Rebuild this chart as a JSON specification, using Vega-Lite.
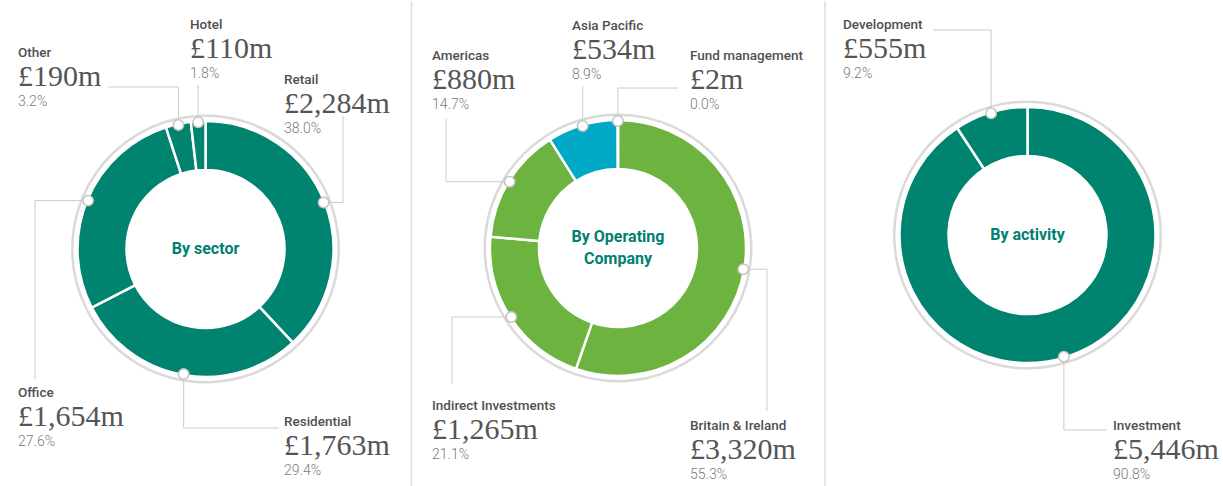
{
  "$schema": "https://vega.github.io/schema/vega-lite/v6.json",
  "background": "white",
  "padding": 0,
  "spacing": 0,
  "bounds": "flush",
  "config": {"view": {"stroke": null}, "axis": {"disable": true}},
  "datasets": {"holdings": [
    {"chart": "sector", "group": "By sector", "segment": "Retail", "value": 2284, "pct": 38.0, "rank": 1},
    {"chart": "sector", "group": "By sector", "segment": "Residential", "value": 1763, "pct": 29.4, "rank": 2},
    {"chart": "sector", "group": "By sector", "segment": "Office", "value": 1654, "pct": 27.6, "rank": 3},
    {"chart": "sector", "group": "By sector", "segment": "Other", "value": 190, "pct": 3.2, "rank": 4},
    {"chart": "sector", "group": "By sector", "segment": "Hotel", "value": 110, "pct": 1.8, "rank": 5},
    {"chart": "company", "group": "By Operating\nCompany", "segment": "Britain & Ireland", "value": 3320, "pct": 55.3, "rank": 1},
    {"chart": "company", "group": "By Operating\nCompany", "segment": "Indirect Investments", "value": 1265, "pct": 21.1, "rank": 2},
    {"chart": "company", "group": "By Operating\nCompany", "segment": "Americas", "value": 880, "pct": 14.7, "rank": 3},
    {"chart": "company", "group": "By Operating\nCompany", "segment": "Asia Pacific", "value": 534, "pct": 8.9, "rank": 4},
    {"chart": "company", "group": "By Operating\nCompany", "segment": "Fund management", "value": 2, "pct": 0.0, "rank": 5},
    {"chart": "activity", "group": "By activity", "segment": "Investment", "value": 5446, "pct": 90.8, "rank": 1},
    {"chart": "activity", "group": "By activity", "segment": "Development", "value": 555, "pct": 9.2, "rank": 2}
  ]},
  "hconcat": [
    {
      "width": 411, "height": 496,
      "data": {"name": "holdings"},
      "transform": [
        {"filter": "datum.chart === 'sector'"},
        {"joinaggregate": [{"op": "sum", "field": "value", "as": "total"}]},
        {"window": [{"op": "sum", "field": "value", "as": "cum"}], "sort": [{"field": "rank", "order": "ascending"}]},
        {"calculate": "2*PI*(datum.cum - datum.value/2)/datum.total", "as": "mid"},
        {"calculate": "205.5 + 127*sin(datum.mid)", "as": "px"},
        {"calculate": "248 - 127*cos(datum.mid)", "as": "py"},
        {"calculate": "datum.rank === 1 ? 284 : datum.rank === 2 ? 284 : datum.rank === 3 ? 18 : datum.rank === 4 ? 18 : 190", "as": "tx"},
        {"calculate": "datum.rank === 1 ? 79 : datum.rank === 2 ? 421 : datum.rank === 3 ? 392 : datum.rank === 4 ? 52 : 24", "as": "ty"},
        {"calculate": "datum.rank === 1 ? 343 : datum.rank === 2 ? 279 : datum.rank === 3 ? 35 : datum.rank === 4 ? 108 : datum.px", "as": "ex"},
        {"calculate": "datum.rank === 1 ? 115 : datum.rank === 2 ? 427 : datum.rank === 3 ? 378 : datum.rank === 4 ? 86 : 84", "as": "ey"},
        {"calculate": "datum.rank === 1 || datum.rank === 3 ? 'h' : 'v'", "as": "dir"},
        {"calculate": "datum.dir === 'h' ? datum.ex : datum.px", "as": "bx"},
        {"calculate": "datum.dir === 'h' ? datum.py : datum.ey", "as": "by"},
        {"calculate": "'£' + format(datum.value, ',') + 'm'", "as": "valueLabel"},
        {"calculate": "format(datum.pct, '.1f') + '%'", "as": "pctLabel"}
      ],
      "layer": [
        {"mark": {"type": "arc", "outerRadius": 134.5, "innerRadius": 132, "color": "#dadada"},
         "encoding": {"theta": {"field": "value", "type": "quantitative", "stack": true}, "order": {"field": "rank", "type": "quantitative"}}},
        {"mark": {"type": "arc", "outerRadius": 128, "innerRadius": 79, "stroke": "white", "strokeWidth": 2.5, "color": "#00836f"},
         "encoding": {"theta": {"field": "value", "type": "quantitative", "stack": true}, "order": {"field": "rank", "type": "quantitative"}}},
        {"mark": {"type": "rule", "color": "#cccccc", "strokeWidth": 1},
         "encoding": {"x": {"field": "px", "type": "quantitative", "scale": {"domain": [0, 411], "nice": false, "zero": false}, "axis": null},
                      "y": {"field": "py", "type": "quantitative", "scale": {"domain": [0, 496], "nice": false, "zero": false, "reverse": true}, "axis": null},
                      "x2": {"field": "bx"}, "y2": {"field": "by"}}},
        {"mark": {"type": "rule", "color": "#cccccc", "strokeWidth": 1},
         "encoding": {"x": {"field": "bx", "type": "quantitative", "axis": null}, "y": {"field": "by", "type": "quantitative", "axis": null}, "x2": {"field": "ex"}, "y2": {"field": "ey"}}},
        {"mark": {"type": "point", "filled": true, "fill": "white", "stroke": "#c4c4c4", "strokeWidth": 1.5, "size": 110, "opacity": 1},
         "encoding": {"x": {"field": "px", "type": "quantitative", "axis": null}, "y": {"field": "py", "type": "quantitative", "axis": null}}},
        {"mark": {"type": "text", "align": "left", "baseline": "middle", "font": "Roboto", "fontWeight": 500, "fontSize": 13.5, "color": "#505050"},
         "encoding": {"x": {"field": "tx", "type": "quantitative", "axis": null}, "y": {"field": "ty", "type": "quantitative", "axis": null}, "text": {"field": "segment"}}},
        {"mark": {"type": "text", "align": "left", "baseline": "middle", "dy": 24, "font": "Liberation Serif", "fontSize": 30, "color": "#555555"},
         "encoding": {"x": {"field": "tx", "type": "quantitative", "axis": null}, "y": {"field": "ty", "type": "quantitative", "axis": null}, "text": {"field": "valueLabel"}}},
        {"mark": {"type": "text", "align": "left", "baseline": "middle", "dy": 48.5, "font": "Roboto", "fontWeight": 300, "fontSize": 14, "color": "#7a7a7a"},
         "encoding": {"x": {"field": "tx", "type": "quantitative", "axis": null}, "y": {"field": "ty", "type": "quantitative", "axis": null}, "text": {"field": "pctLabel"}}},
        {"transform": [{"filter": "datum.rank === 1"}],
         "mark": {"type": "text", "align": "center", "baseline": "middle", "lineBreak": "\n", "lineHeight": 22, "font": "Roboto", "fontWeight": 700, "fontSize": 16, "color": "#00806f"},
         "encoding": {"text": {"field": "group"}}}
      ]
    },
    {
      "width": 414, "height": 494,
      "data": {"name": "holdings"},
      "transform": [
        {"filter": "datum.chart === 'company'"},
        {"joinaggregate": [{"op": "sum", "field": "value", "as": "total"}]},
        {"window": [{"op": "sum", "field": "value", "as": "cum"}], "sort": [{"field": "rank", "order": "ascending"}]},
        {"calculate": "2*PI*(datum.cum - datum.value/2)/datum.total", "as": "mid"},
        {"calculate": "618 + 127*sin(datum.mid)", "as": "px"},
        {"calculate": "247 - 127*cos(datum.mid)", "as": "py"},
        {"calculate": "datum.rank === 1 ? 690 : datum.rank === 2 ? 432 : datum.rank === 3 ? 432 : datum.rank === 4 ? 572 : 690", "as": "tx"},
        {"calculate": "datum.rank === 1 ? 425 : datum.rank === 2 ? 405 : datum.rank === 3 ? 55 : datum.rank === 4 ? 25 : 55", "as": "ty"},
        {"calculate": "datum.rank === 1 ? 767 : datum.rank === 2 ? 452 : datum.rank === 3 ? 446 : datum.rank === 4 ? datum.px : 678", "as": "ex"},
        {"calculate": "datum.rank === 1 ? 410 : datum.rank === 2 ? 383 : datum.rank === 3 ? 118 : datum.rank === 4 ? 85 : 87", "as": "ey"},
        {"calculate": "datum.rank <= 3 ? 'h' : 'v'", "as": "dir"},
        {"calculate": "datum.dir === 'h' ? datum.ex : datum.px", "as": "bx"},
        {"calculate": "datum.dir === 'h' ? datum.py : datum.ey", "as": "by"},
        {"calculate": "'£' + format(datum.value, ',') + 'm'", "as": "valueLabel"},
        {"calculate": "format(datum.pct, '.1f') + '%'", "as": "pctLabel"}
      ],
      "layer": [
        {"mark": {"type": "arc", "outerRadius": 134.5, "innerRadius": 132, "color": "#dadada"},
         "encoding": {"theta": {"field": "value", "type": "quantitative", "stack": true}, "order": {"field": "rank", "type": "quantitative"}}},
        {"mark": {"type": "arc", "outerRadius": 128, "innerRadius": 79, "stroke": "white", "strokeWidth": 2.5},
         "encoding": {"theta": {"field": "value", "type": "quantitative", "stack": true}, "order": {"field": "rank", "type": "quantitative"},
                      "color": {"field": "segment", "type": "nominal", "legend": null, "scale": {"domain": ["Britain & Ireland", "Indirect Investments", "Americas", "Asia Pacific", "Fund management"], "range": ["#6cb33f", "#6cb33f", "#6cb33f", "#00a9c5", "#6cb33f"]}}}},
        {"transform": [{"filter": "datum.rank === 1"}],
         "mark": {"type": "rule", "color": "#dedede", "strokeWidth": 1.5},
         "encoding": {"x": {"datum": 411.5, "type": "quantitative", "axis": null}}},
        {"transform": [{"filter": "datum.rank === 1"}],
         "mark": {"type": "rule", "color": "#dedede", "strokeWidth": 1.5},
         "encoding": {"x": {"datum": 825, "type": "quantitative", "axis": null}}},
        {"mark": {"type": "rule", "color": "#cccccc", "strokeWidth": 1},
         "encoding": {"x": {"field": "px", "type": "quantitative", "scale": {"domain": [411, 825], "nice": false, "zero": false}, "axis": null},
                      "y": {"field": "py", "type": "quantitative", "scale": {"domain": [0, 494], "nice": false, "zero": false, "reverse": true}, "axis": null},
                      "x2": {"field": "bx"}, "y2": {"field": "by"}}},
        {"mark": {"type": "rule", "color": "#cccccc", "strokeWidth": 1},
         "encoding": {"x": {"field": "bx", "type": "quantitative", "axis": null}, "y": {"field": "by", "type": "quantitative", "axis": null}, "x2": {"field": "ex"}, "y2": {"field": "ey"}}},
        {"mark": {"type": "point", "filled": true, "fill": "white", "stroke": "#c4c4c4", "strokeWidth": 1.5, "size": 110, "opacity": 1},
         "encoding": {"x": {"field": "px", "type": "quantitative", "axis": null}, "y": {"field": "py", "type": "quantitative", "axis": null}}},
        {"mark": {"type": "text", "align": "left", "baseline": "middle", "font": "Roboto", "fontWeight": 500, "fontSize": 13.5, "color": "#505050"},
         "encoding": {"x": {"field": "tx", "type": "quantitative", "axis": null}, "y": {"field": "ty", "type": "quantitative", "axis": null}, "text": {"field": "segment"}}},
        {"mark": {"type": "text", "align": "left", "baseline": "middle", "dy": 24, "font": "Liberation Serif", "fontSize": 30, "color": "#555555"},
         "encoding": {"x": {"field": "tx", "type": "quantitative", "axis": null}, "y": {"field": "ty", "type": "quantitative", "axis": null}, "text": {"field": "valueLabel"}}},
        {"mark": {"type": "text", "align": "left", "baseline": "middle", "dy": 48.5, "font": "Roboto", "fontWeight": 300, "fontSize": 14, "color": "#7a7a7a"},
         "encoding": {"x": {"field": "tx", "type": "quantitative", "axis": null}, "y": {"field": "ty", "type": "quantitative", "axis": null}, "text": {"field": "pctLabel"}}},
        {"transform": [{"filter": "datum.rank === 1"}],
         "mark": {"type": "text", "align": "center", "baseline": "middle", "dy": -11, "lineBreak": "\n", "lineHeight": 22, "font": "Roboto", "fontWeight": 700, "fontSize": 16, "color": "#00806f"},
         "encoding": {"text": {"field": "group"}}}
      ]
    },
    {
      "width": 405, "height": 468,
      "data": {"name": "holdings"},
      "transform": [
        {"filter": "datum.chart === 'activity'"},
        {"joinaggregate": [{"op": "sum", "field": "value", "as": "total"}]},
        {"window": [{"op": "sum", "field": "value", "as": "cum"}], "sort": [{"field": "rank", "order": "ascending"}]},
        {"calculate": "2*PI*(datum.cum - datum.value/2)/datum.total", "as": "mid"},
        {"calculate": "1027.5 + 127*sin(datum.mid)", "as": "px"},
        {"calculate": "234 - 127*cos(datum.mid)", "as": "py"},
        {"calculate": "datum.rank === 1 ? 1113 : 843", "as": "tx"},
        {"calculate": "datum.rank === 1 ? 425 : 24", "as": "ty"},
        {"calculate": "datum.rank === 1 ? 1107 : 933", "as": "ex"},
        {"calculate": "datum.rank === 1 ? 429 : 29", "as": "ey"},
        {"calculate": "'v'", "as": "dir"},
        {"calculate": "datum.dir === 'h' ? datum.ex : datum.px", "as": "bx"},
        {"calculate": "datum.dir === 'h' ? datum.py : datum.ey", "as": "by"},
        {"calculate": "'£' + format(datum.value, ',') + 'm'", "as": "valueLabel"},
        {"calculate": "format(datum.pct, '.1f') + '%'", "as": "pctLabel"}
      ],
      "layer": [
        {"mark": {"type": "arc", "outerRadius": 134.5, "innerRadius": 132, "color": "#dadada"},
         "encoding": {"theta": {"field": "value", "type": "quantitative", "stack": true}, "order": {"field": "rank", "type": "quantitative"}}},
        {"mark": {"type": "arc", "outerRadius": 128, "innerRadius": 79, "stroke": "white", "strokeWidth": 2.5, "color": "#00836f"},
         "encoding": {"theta": {"field": "value", "type": "quantitative", "stack": true}, "order": {"field": "rank", "type": "quantitative"}}},
        {"mark": {"type": "rule", "color": "#cccccc", "strokeWidth": 1},
         "encoding": {"x": {"field": "px", "type": "quantitative", "scale": {"domain": [825, 1230], "nice": false, "zero": false}, "axis": null},
                      "y": {"field": "py", "type": "quantitative", "scale": {"domain": [0, 468], "nice": false, "zero": false, "reverse": true}, "axis": null},
                      "x2": {"field": "bx"}, "y2": {"field": "by"}}},
        {"mark": {"type": "rule", "color": "#cccccc", "strokeWidth": 1},
         "encoding": {"x": {"field": "bx", "type": "quantitative", "axis": null}, "y": {"field": "by", "type": "quantitative", "axis": null}, "x2": {"field": "ex"}, "y2": {"field": "ey"}}},
        {"mark": {"type": "point", "filled": true, "fill": "white", "stroke": "#c4c4c4", "strokeWidth": 1.5, "size": 110, "opacity": 1},
         "encoding": {"x": {"field": "px", "type": "quantitative", "axis": null}, "y": {"field": "py", "type": "quantitative", "axis": null}}},
        {"mark": {"type": "text", "align": "left", "baseline": "middle", "font": "Roboto", "fontWeight": 500, "fontSize": 13.5, "color": "#505050"},
         "encoding": {"x": {"field": "tx", "type": "quantitative", "axis": null}, "y": {"field": "ty", "type": "quantitative", "axis": null}, "text": {"field": "segment"}}},
        {"mark": {"type": "text", "align": "left", "baseline": "middle", "dy": 24, "font": "Liberation Serif", "fontSize": 30, "color": "#555555"},
         "encoding": {"x": {"field": "tx", "type": "quantitative", "axis": null}, "y": {"field": "ty", "type": "quantitative", "axis": null}, "text": {"field": "valueLabel"}}},
        {"mark": {"type": "text", "align": "left", "baseline": "middle", "dy": 48.5, "font": "Roboto", "fontWeight": 300, "fontSize": 14, "color": "#7a7a7a"},
         "encoding": {"x": {"field": "tx", "type": "quantitative", "axis": null}, "y": {"field": "ty", "type": "quantitative", "axis": null}, "text": {"field": "pctLabel"}}},
        {"transform": [{"filter": "datum.rank === 1"}],
         "mark": {"type": "text", "align": "center", "baseline": "middle", "lineBreak": "\n", "lineHeight": 22, "font": "Roboto", "fontWeight": 700, "fontSize": 16, "color": "#00806f"},
         "encoding": {"text": {"field": "group"}}}
      ]
    }
  ]
}
